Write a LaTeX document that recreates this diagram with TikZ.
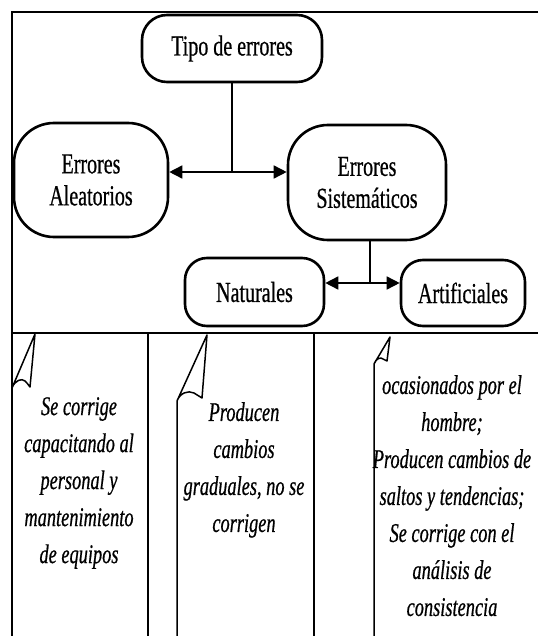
\documentclass[tikz,border=0pt]{standalone}
\usepackage{fontspec}
\setmainfont{Liberation Serif}[FakeStretch=0.69,FakeBold=0.6]
\newfontfamily\notefont{Liberation Serif}[FakeStretch=0.68,FakeBold=0.6]
\usetikzlibrary{arrows.meta}

\tikzset{
  frameline/.style={line width=1.4pt},
  bubble/.style={draw, line width=2.6pt, rectangle, inner sep=0pt, align=center,
    font=\fontsize{29}{32}\selectfont},
  link/.style={line width=1.6pt},
  biarrow/.style={line width=1.6pt,
    {Triangle[length=13pt,width=13pt]}-{Triangle[length=13pt,width=13pt]}},
  note/.style={inner sep=0pt, anchor=north, align=center,
    font=\notefont\itshape\fontsize{27}{37}\selectfont},
  callout/.style={line width=1.5pt, line join=round}
}

\begin{document}
\begin{tikzpicture}[x=1pt,y=-1pt]
  \useasboundingbox (0,0) rectangle (538,636);

  % outer frame and the three columns below it
  \draw[frameline] (538,12) -- (12,12) -- (12,636);
  \draw[frameline] (12,333) -- (538,333);
  \draw[frameline] (148,333) -- (148,636);
  \draw[frameline] (314,333) -- (314,636);

  % classification tree
  \node[bubble, minimum width=180pt, minimum height=67pt, rounded corners=25pt]
    (tipo) at (232,48.5) {Tipo de errores};
  \node[bubble, minimum width=154pt, minimum height=114pt, rounded corners=40pt]
    (alea) at (91,180) {Errores\\Aleatorios};
  \node[bubble, minimum width=158pt, minimum height=115pt, rounded corners=40pt]
    (siste) at (367,182.5) {Errores\\Sistemáticos};
  \node[bubble, minimum width=139pt, minimum height=68pt, rounded corners=22pt]
    (natu) at (254.5,292) {Naturales};
  \node[bubble, minimum width=124pt, minimum height=66pt, rounded corners=22pt]
    (arti) at (463,293) {Artificiales};

  \coordinate (j1) at (232,172);
  \coordinate (j2) at (370,283);

  \draw[link] (tipo.south) -- (j1);
  \draw[biarrow] (alea.east |- j1) -- (siste.west |- j1);
  \draw[link] (siste.south -| j2) -- (j2);
  \draw[biarrow] (natu.east |- j2) -- (arti.west |- j2);

  % callout notes
  \draw[callout] (12,636) -- (12,388)
    .. controls (15,380) and (22,378) .. (25,381)
    .. controls (27,383) .. (30,387) -- (35,334) -- (12,388);
  \draw[callout] (177,636) -- (177,401)
    .. controls (180,393) and (188,390) .. (194,393)
    .. controls (198,395) .. (202,398) -- (207,335) -- (177,401);
  \draw[callout] (374,636) -- (374,364)
    .. controls (376,358) and (381,357) .. (383,359)
    .. controls (385,360) .. (387,361) -- (390,337) -- (374,364);

  \node[note] (n1) at (79,397)
    {Se corrige\\capacitando al\\personal y\\mantenimiento\\de equipos};
  \node[note] (n2) at (244,402)
    {Producen\\cambios\\graduales, no se\\corrigen};
  \node[note] (n3) at (452,375)
    {ocasionados por el\\hombre;\\Producen cambios de\\saltos y tendencias;\\Se corrige con el\\análisis de\\consistencia};
\end{tikzpicture}
\end{document}
